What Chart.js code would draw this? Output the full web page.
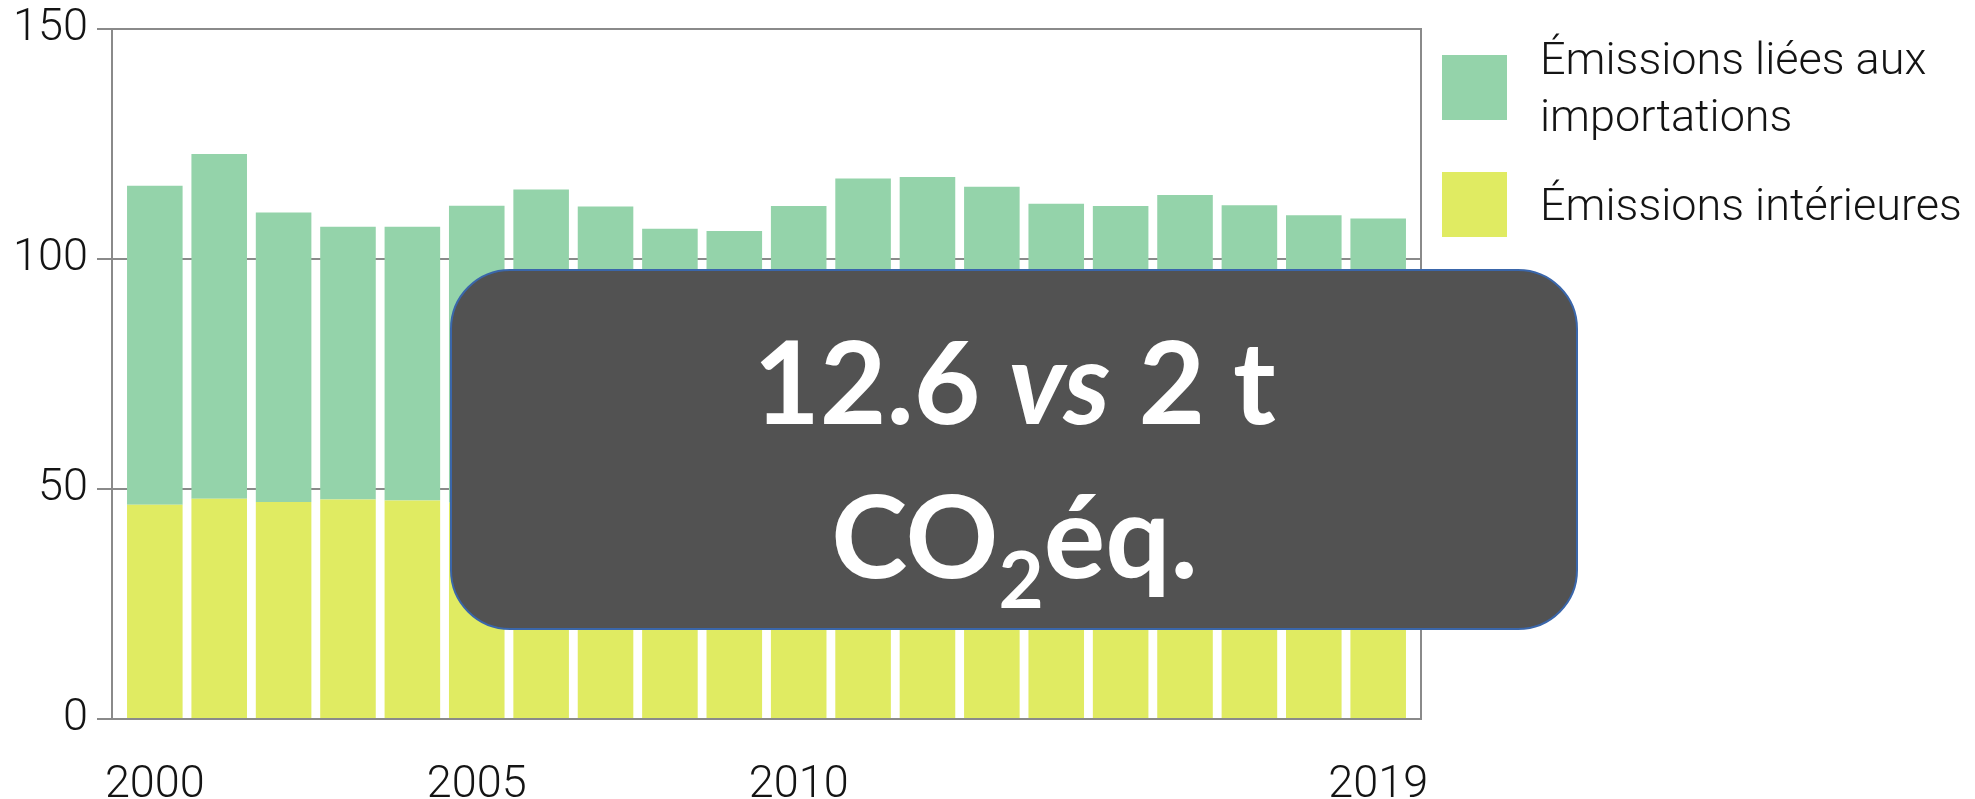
<!DOCTYPE html>
<html>
<head>
<meta charset="utf-8">
<script src="https://cdn.jsdelivr.net/npm/chart.js@4.4.1/dist/chart.umd.min.js"></script>
<style>
  html, body { margin: 0; padding: 0; background: #ffffff; }
  #wrap { position: relative; width: 1975px; height: 799px; overflow: hidden; }
  #c { position: absolute; left: 0; top: 0; }
  #box {
    position: absolute; left: 450px; top: 269px; width: 1124px; height: 357px;
    background: #525252; border: 2.5px solid #3A66AA; border-radius: 60px;
  }
  #boxtext {
    position: absolute; left: 450px; top: 302px; width: 1129px;
    text-align: center; color: #ffffff;
    font-family: Lato, "Open Sans", sans-serif; font-weight: 700;
    font-size: 115px; line-height: 154px; white-space: nowrap;
  }
  #boxtext .sub { font-size: 78px; position: relative; top: 30px; }
</style>
</head>
<body>
<div id="wrap">
  <canvas id="c" width="1975" height="799"></canvas>
  <div id="box"></div>
  <div id="boxtext"><div>12.6 <i>vs</i> 2 t</div><div>CO<span class="sub">2</span>éq.</div></div>
</div>
<script>
// ---- Data ----
const years = ['2000','2001','2002','2003','2004','2005','2006','2007','2008','2009',
               '2010','2011','2012','2013','2014','2015','2016','2017','2018','2019'];
const domesticEmissions = [46.6, 47.9, 47.2, 47.7, 47.5, 47.0, 46.6, 46.0, 45.2, 43.0,
                           43.8, 41.5, 41.8, 41.5, 39.0, 39.6, 39.8, 40.2, 38.6, 37.8];
const importEmissions   = [69.3, 74.9, 62.9, 59.3, 59.5, 64.6, 68.5, 65.4, 61.4, 63.1,
                           67.7, 76.0, 76.0, 74.2, 73.0, 71.9, 74.1, 71.5, 70.9, 71.0];
const xTickYears = ['2000', '2005', '2010', '2019'];
const yTicks = [0, 50, 100, 150];
const seriesLabels = ['Émissions intérieures', 'Émissions liées aux importations'];
const legendLines = [['Émissions liées aux', 'importations'], ['Émissions intérieures']];

const GREEN = '#94D3AA';
const YELLOW = '#E0EB62';
const GRID = '#8A8A8A';
const TEXT = '#141414';
const FONT = 'Roboto';

const toPoints = arr => arr.map((v, i) => ({ x: i, y: v }));

const frameAndLegend = {
  id: 'frameAndLegend',
  afterDraw(chart) {
    const ctx = chart.ctx;
    const a = chart.chartArea;
    ctx.save();
    ctx.strokeStyle = GRID;
    ctx.lineWidth = 2;
    ctx.beginPath();
    ctx.moveTo(a.right, a.top - 1);
    ctx.lineTo(a.right, a.bottom + 1);
    ctx.stroke();
    const items = [
      { color: GREEN, lines: legendLines[0], boxY: 55, baselines: [74, 131] },
      { color: YELLOW, lines: legendLines[1], boxY: 172, baselines: [220] }
    ];
    const boxX = a.right + 21;
    const textX = a.right + 119;
    ctx.font = '300 45px ' + FONT;
    ctx.textBaseline = 'alphabetic';
    ctx.textAlign = 'left';
    items.forEach(it => {
      ctx.fillStyle = it.color;
      ctx.fillRect(boxX, it.boxY, 65, 65);
      ctx.fillStyle = TEXT;
      it.lines.forEach((ln, k) => ctx.fillText(ln, textX, it.baselines[k]));
    });
    ctx.restore();
  }
};

function build() {
  new Chart(document.getElementById('c'), {
    type: 'bar',
    data: {
      datasets: [
        { label: seriesLabels[0], data: toPoints(domesticEmissions), backgroundColor: YELLOW,
          barPercentage: 0.863, categoryPercentage: 1.0 },
        { label: seriesLabels[1], data: toPoints(importEmissions), backgroundColor: GREEN,
          barPercentage: 0.863, categoryPercentage: 1.0 }
      ]
    },
    options: {
      responsive: false,
      animation: false,
      devicePixelRatio: 1,
      layout: { padding: { left: 0, right: 554, top: 29, bottom: 0 } },
      plugins: { legend: { display: false }, tooltip: { enabled: false } },
      scales: {
        x: {
          type: 'linear',
          stacked: true,
          offset: false,
          min: -0.665,
          max: 19.665,
          grid: { display: false, drawTicks: false },
          border: { display: true, color: GRID, width: 2 },
          afterBuildTicks: s => { s.ticks = xTickYears.map(y => ({ value: years.indexOf(y) })); },
          afterFit: s => { s.height = 80; s.paddingLeft = 0; s.paddingRight = 0; },
          ticks: {
            autoSkip: false, maxRotation: 0, padding: 40,
            color: TEXT, font: { family: FONT, size: 45, weight: 300 },
            callback: v => years[v]
          }
        },
        y: {
          stacked: true,
          min: 0, max: 150,
          afterBuildTicks: s => { s.ticks = yTicks.map(v => ({ value: v })); },
          afterFit: s => { s.width = 112; s.paddingTop = 0; s.paddingBottom = 0; },
          grid: { color: GRID, lineWidth: 2, tickLength: 15, drawTicks: true },
          border: { display: true, color: GRID, width: 2 },
          ticks: { padding: 9, color: TEXT, font: { family: FONT, size: 45, weight: 300 } }
        }
      }
    },
    plugins: [frameAndLegend]
  });
}

Promise.all([
  document.fonts.load('300 45px Roboto'),
  document.fonts.load('700 115px Lato'),
  document.fonts.load('italic 700 115px Lato')
]).then(build, build);
</script>
</body>
</html>
